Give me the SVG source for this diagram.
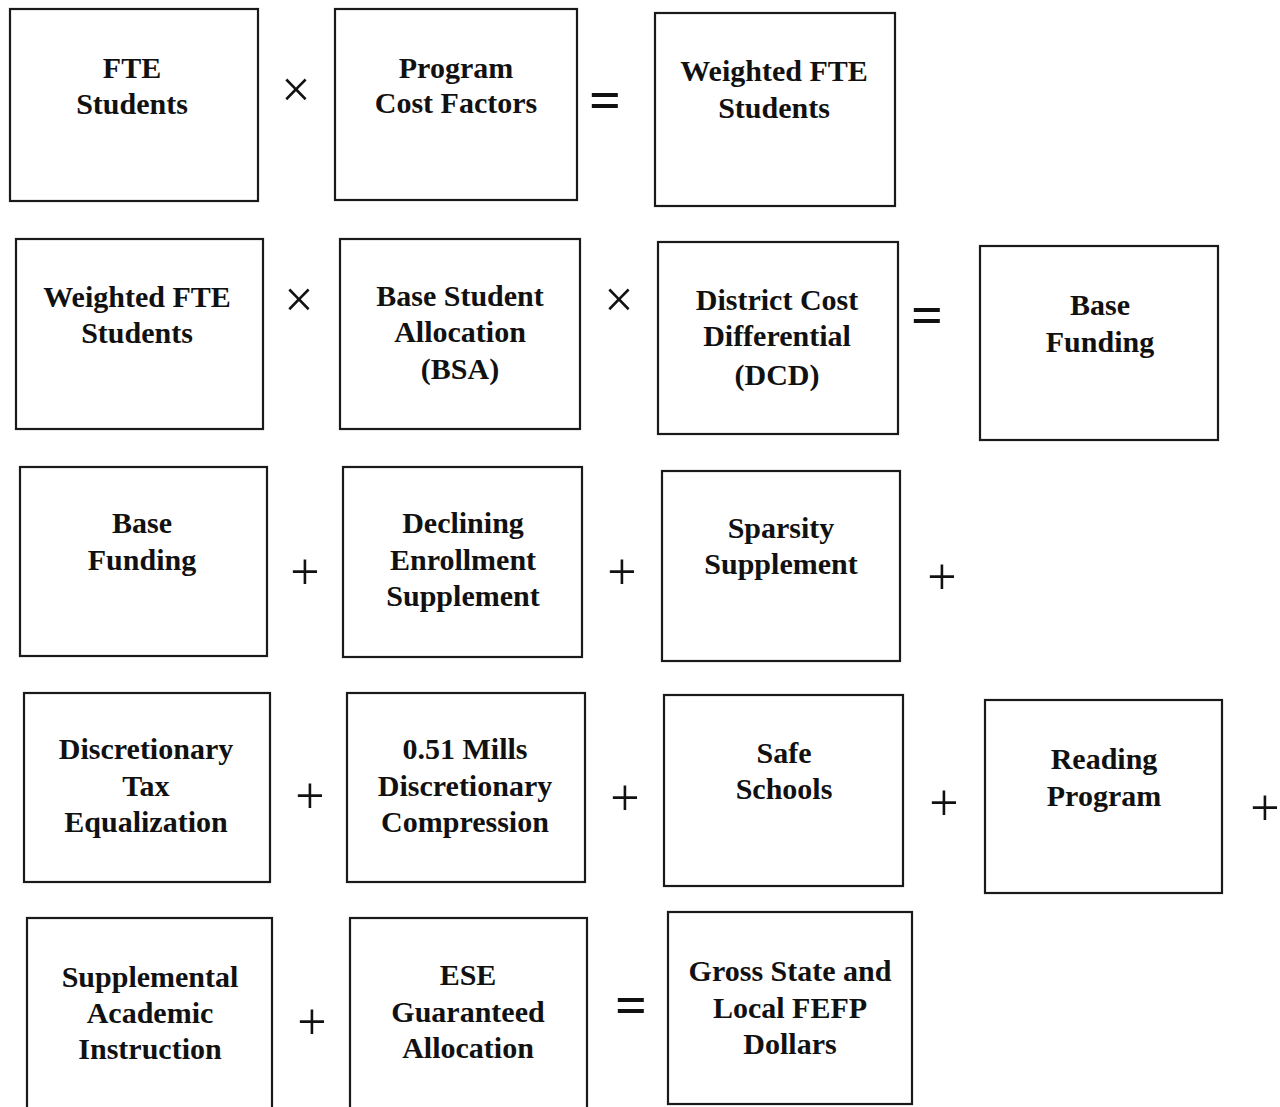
<svg xmlns="http://www.w3.org/2000/svg" width="1280" height="1107" viewBox="0 0 1280 1107">
<style>
.box{fill:#fff;stroke:#1a1a1a;stroke-width:2.2}
.t{font-family:"Liberation Serif","Times New Roman",serif;font-weight:bold;font-size:30px;fill:#111;text-anchor:middle}
.op{font-family:"Liberation Serif","Times New Roman",serif;font-size:52px;fill:#111;text-anchor:middle}
.eq{font-family:"Liberation Serif","Times New Roman",serif;font-size:56px;font-weight:bold;fill:#111;text-anchor:middle}
</style>
<rect width="1280" height="1107" fill="#fff"/>
<!-- Row 1 -->
<g id="n-fte"><rect class="box" x="10" y="9" width="248" height="192"/><text class="t" x="132" y="78">FTE</text><text class="t" x="132" y="114">Students</text></g>
<g id="n-pcf"><rect class="box" x="335" y="9" width="242" height="191"/><text class="t" x="456" y="78">Program</text><text class="t" x="456" y="113">Cost Factors</text></g>
<g id="n-wfte1"><rect class="box" x="655" y="13" width="240" height="193"/><text class="t" x="774" y="81">Weighted FTE</text><text class="t" x="774" y="118">Students</text></g>
<!-- Row 2 -->
<g id="n-wfte2"><rect class="box" x="16" y="239" width="247" height="190"/><text class="t" x="137" y="307">Weighted FTE</text><text class="t" x="137" y="343">Students</text></g>
<g id="n-bsa"><rect class="box" x="340" y="239" width="240" height="190"/><text class="t" x="460" y="306">Base Student</text><text class="t" x="460" y="342">Allocation</text><text class="t" x="460" y="379">(BSA)</text></g>
<g id="n-dcd"><rect class="box" x="658" y="242" width="240" height="192"/><text class="t" x="777" y="310">District Cost</text><text class="t" x="777" y="346">Differential</text><text class="t" x="777" y="385">(DCD)</text></g>
<g id="n-bf1"><rect class="box" x="980" y="246" width="238" height="194"/><text class="t" x="1100" y="315">Base</text><text class="t" x="1100" y="352">Funding</text></g>
<!-- Row 3 -->
<g id="n-bf2"><rect class="box" x="20" y="467" width="247" height="189"/><text class="t" x="142" y="533">Base</text><text class="t" x="142" y="570">Funding</text></g>
<g id="n-des"><rect class="box" x="343" y="467" width="239" height="190"/><text class="t" x="463" y="533">Declining</text><text class="t" x="463" y="570">Enrollment</text><text class="t" x="463" y="606">Supplement</text></g>
<g id="n-sps"><rect class="box" x="662" y="471" width="238" height="190"/><text class="t" x="781" y="538">Sparsity</text><text class="t" x="781" y="574">Supplement</text></g>
<!-- Row 4 -->
<g id="n-dte"><rect class="box" x="24" y="693" width="246" height="189"/><text class="t" x="146" y="759">Discretionary</text><text class="t" x="146" y="796">Tax</text><text class="t" x="146" y="832">Equalization</text></g>
<g id="n-mills"><rect class="box" x="347" y="693" width="238" height="189"/><text class="t" x="465" y="759">0.51 Mills</text><text class="t" x="465" y="796">Discretionary</text><text class="t" x="465" y="832">Compression</text></g>
<g id="n-safe"><rect class="box" x="664" y="695" width="239" height="191"/><text class="t" x="784" y="763">Safe</text><text class="t" x="784" y="799">Schools</text></g>
<g id="n-read"><rect class="box" x="985" y="700" width="237" height="193"/><text class="t" x="1104" y="769">Reading</text><text class="t" x="1104" y="806">Program</text></g>
<!-- Row 5 -->
<g id="n-sai"><rect class="box" x="27" y="918" width="245" height="210"/><text class="t" x="150" y="987">Supplemental</text><text class="t" x="150" y="1023">Academic</text><text class="t" x="150" y="1059">Instruction</text></g>
<g id="n-ese"><rect class="box" x="350" y="918" width="237" height="210"/><text class="t" x="468" y="985">ESE</text><text class="t" x="468" y="1022">Guaranteed</text><text class="t" x="468" y="1058">Allocation</text></g>
<g id="n-gross"><rect class="box" x="668" y="912" width="244" height="192"/><text class="t" x="790" y="981">Gross State and</text><text class="t" x="790" y="1018">Local FEFP</text><text class="t" x="790" y="1054">Dollars</text></g>
<!-- Operators -->
<g id="operators">
<text class="op" x="296" y="107">×</text>
<text class="eq" x="605" y="119">=</text>
<text class="op" x="299" y="317">×</text>
<text class="op" x="619" y="317">×</text>
<text class="eq" x="927" y="334">=</text>
<text class="op" x="305" y="589">+</text>
<text class="op" x="622" y="589">+</text>
<text class="op" x="942" y="594">+</text>
<text class="op" x="310" y="813">+</text>
<text class="op" x="625" y="815">+</text>
<text class="op" x="944" y="820">+</text>
<text class="op" x="1265" y="825">+</text>
<text class="op" x="312" y="1039">+</text>
<text class="eq" x="631" y="1024">=</text>
</g>
</svg>
